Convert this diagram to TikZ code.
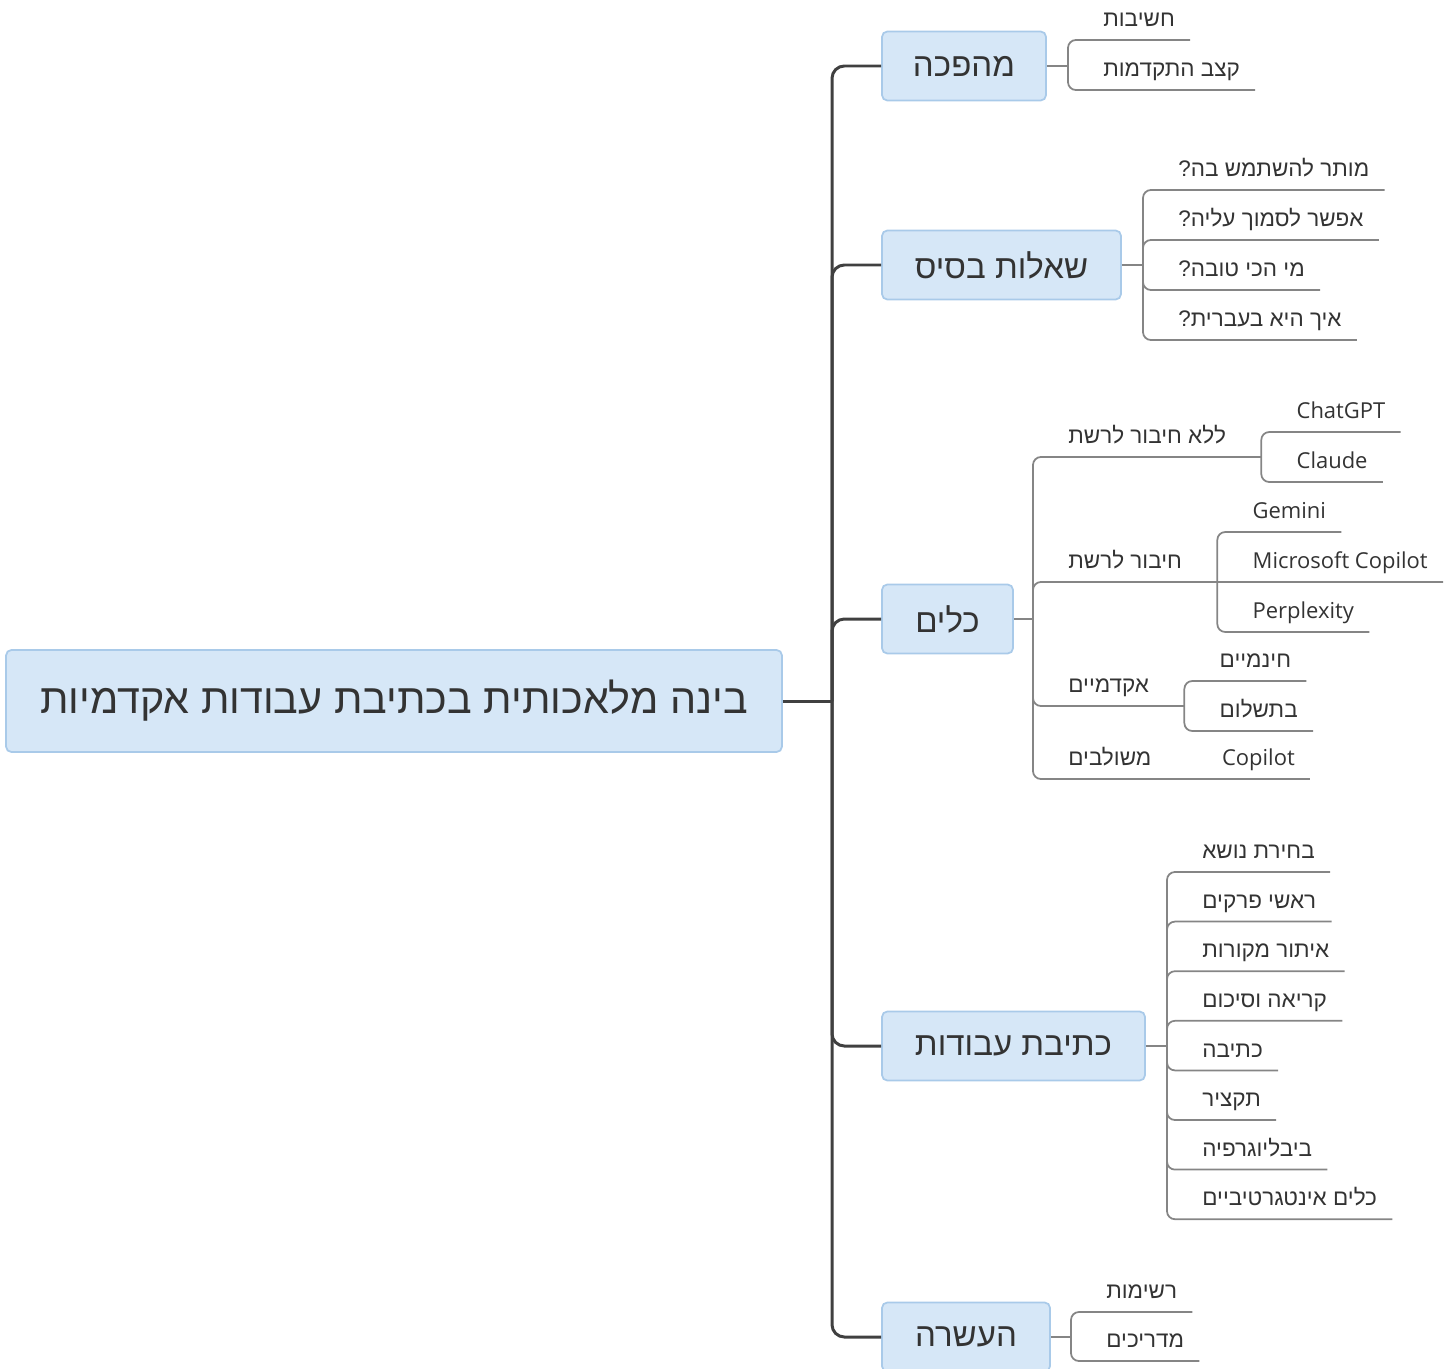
\documentclass[tikz,border=0pt]{standalone}
\usepackage{fontspec}
\setmainfont{Liberation Sans}
\newfontfamily\hebfont[Script=Hebrew]{Liberation Sans}
\newfontfamily\latfont{Open Sans}
\TeXXeTstate=1
\definecolor{boxfill}{HTML}{D6E7F7}
\definecolor{boxline}{HTML}{A9CAE9}
\definecolor{trunkline}{HTML}{404040}
\definecolor{subline}{HTML}{858585}
\definecolor{inkgray}{HTML}{333333}
\newcommand{\heb}[1]{{\hebfont\beginR #1\endR}}
\newcommand{\lat}[1]{{\latfont\fontsize{12.5}{15}\selectfont #1}}
\tikzset{
  rootbox/.style={fill=boxfill, draw=boxline, line width=1pt, rounded corners=3pt,
    minimum width=15.52cm, minimum height=2.04cm, text=inkgray,
    font=\fontsize{23.5}{28}\selectfont},
  topic/.style={fill=boxfill, draw=boxline, line width=1pt, rounded corners=3pt,
    minimum height=1.38cm, text=inkgray, font=\fontsize{18.8}{22}\selectfont},
  leaf/.style={anchor=south west, inner sep=0pt, text height=.4cm, text depth=.26cm,
    text=inkgray, font=\fontsize{12.8}{15}\selectfont,
    execute at begin node={\hspace*{.7cm}}, execute at end node={\hspace*{#1}}},
  leaf/.default=.3cm,
  trunk/.style={draw=trunkline, line width=1.7pt, rounded corners=7pt},
  sub/.style={draw=subline, line width=1pt, rounded corners=4.5pt}
}
\begin{document}
\begin{tikzpicture}[x=0.02cm, y=-0.02cm]
\useasboundingbox (0,0) rectangle (1447,1369);

% root and main topics
\node[rootbox] (root) at (394,701) {\heb{בינה מלאכותית בכתיבת עבודות אקדמיות}};
\node[topic, minimum width=3.28cm] (rev) at (964,66) {\heb{מהפכה}};
\node[topic, minimum width=4.78cm] (basics) at (1001.5,265) {\heb{שאלות בסיס}};
\node[topic, minimum width=2.62cm] (tools) at (947.5,619) {\heb{כלים}};
\node[topic, minimum width=5.26cm] (writing) at (1013.5,1046) {\heb{כתיבת עבודות}};
\node[topic, minimum width=3.36cm] (enrich) at (966,1337) {\heb{העשרה}};

\coordinate (hub) at (832,701);
\draw[trunk] (root.east) -- (hub);
\draw[trunk] (hub) |- (rev.west);
\draw[trunk] (hub) |- (basics.west);
\draw[trunk] (hub) |- (tools.west);
\draw[trunk] (hub) |- (writing.west);
\draw[trunk] (hub) |- (enrich.west);

% junctions of the sub branches
\coordinate (jrev) at (1068,66);
\coordinate (jbasics) at (1143,265);
\coordinate (jtools) at (1033,619);
\coordinate (jwriting) at (1167,1046);
\coordinate (jenrich) at (1071,1337);

% mahapecha
\node[leaf] (rev1) at (1068,40) {\heb{חשיבות}};
\node[leaf] (rev2) at (1068,90) {\heb{קצב התקדמות}};

% basic questions
\node[leaf] (basics1) at (1143,190) {\heb{מותר להשתמש בה?}};
\node[leaf] (basics2) at (1143,240) {\heb{אפשר לסמוך עליה?}};
\node[leaf] (basics3) at (1143,290) {\heb{מי הכי טובה?}};
\node[leaf] (basics4) at (1143,340) {\heb{איך היא בעברית?}};

% tools
\node[leaf=.7cm] (offline) at (1033,457) {\heb{ללא חיבור לרשת}};
\node[leaf=.7cm] (online) at (1033,582) {\heb{חיבור לרשת}};
\node[leaf=.7cm] (academic) at (1033,706) {\heb{אקדמיים}};
\node[leaf=.7cm] (embedded) at (1033,779) {\heb{משולבים}};
\node[leaf, yshift=.5cm] (chatgpt) at (offline.south east) {\lat{ChatGPT}};
\node[leaf, yshift=-.5cm] (claude) at (offline.south east) {\lat{Claude}};
\node[leaf, yshift=1cm] (gemini) at (online.south east) {\lat{Gemini}};
\node[leaf] (mscopilot) at (online.south east) {\lat{Microsoft Copilot}};
\node[leaf, yshift=-1cm] (perplexity) at (online.south east) {\lat{Perplexity}};
\node[leaf, yshift=.5cm] (free) at (academic.south east) {\heb{חינמיים}};
\node[leaf, yshift=-.5cm] (paid) at (academic.south east) {\heb{בתשלום}};
\node[leaf] (copilot) at (embedded.south east) {\lat{Copilot}};

% writing papers
\node[leaf] (writing1) at (1167,872) {\heb{בחירת נושא}};
\node[leaf] (writing2) at (1167,921.6) {\heb{ראשי פרקים}};
\node[leaf] (writing3) at (1167,971.2) {\heb{איתור מקורות}};
\node[leaf] (writing4) at (1167,1020.8) {\heb{קריאה וסיכום}};
\node[leaf] (writing5) at (1167,1070.4) {\heb{כתיבה}};
\node[leaf] (writing6) at (1167,1120) {\heb{תקציר}};
\node[leaf] (writing7) at (1167,1169.6) {\heb{ביבליוגרפיה}};
\node[leaf] (writing8) at (1167,1219.2) {\heb{כלים אינטגרטיביים}};

% enrichment
\node[leaf] (enrich1) at (1071,1312) {\heb{רשימות}};
\node[leaf] (enrich2) at (1071,1361) {\heb{מדריכים}};

% connectors
\draw[sub] (rev.east) -- (jrev);
\draw[sub] (jrev) |- (rev1.south east) (jrev) |- (rev2.south east);
\draw[sub] (basics.east) -- (jbasics);
\draw[sub] (jbasics) |- (basics1.south east) (jbasics) |- (basics2.south east)
  (jbasics) |- (basics3.south east) (jbasics) |- (basics4.south east);
\draw[sub] (tools.east) -- (jtools);
\draw[sub] (jtools) |- (offline.south east) (jtools) |- (online.south east)
  (jtools) |- (academic.south east) (jtools) |- (embedded.south east);
\draw[sub] (offline.south east) |- (chatgpt.south east) (offline.south east) |- (claude.south east);
\draw[sub] (online.south east) |- (gemini.south east) (online.south east) -- (mscopilot.south east)
  (online.south east) |- (perplexity.south east);
\draw[sub] (academic.south east) |- (free.south east) (academic.south east) |- (paid.south east);
\draw[sub] (embedded.south east) -- (copilot.south east);
\draw[sub] (writing.east) -- (jwriting);
\draw[sub] (jwriting) |- (writing1.south east) (jwriting) |- (writing2.south east)
  (jwriting) |- (writing3.south east) (jwriting) |- (writing4.south east)
  (jwriting) |- (writing5.south east) (jwriting) |- (writing6.south east)
  (jwriting) |- (writing7.south east) (jwriting) |- (writing8.south east);
\draw[sub] (enrich.east) -- (jenrich);
\draw[sub] (jenrich) |- (enrich1.south east) (jenrich) |- (enrich2.south east);
\end{tikzpicture}
\end{document}
